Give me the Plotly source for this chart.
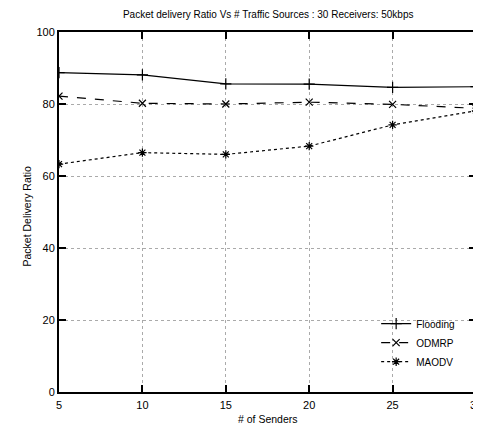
import plotly.graph_objects as go

senders = [5, 10, 15, 20, 25, 30]
flooding = [88.7, 88.1, 85.6, 85.5, 84.6, 84.8]
odmrp = [82.2, 80.2, 80.0, 80.5, 79.9, 78.8]
maodv = [63.3, 66.5, 66.0, 68.3, 74.2, 78.1]

x_ticks = [5, 10, 15, 20, 25, 30]
y_ticks = [0, 20, 40, 60, 80, 100]

FONT = "Liberation Sans, Arial, sans-serif"

fig = go.Figure()
fig.add_trace(go.Scatter(
    x=senders, y=flooding, name="Flooding", mode="lines+markers",
    line=dict(color="black", width=1.2, dash="solid"),
    marker=dict(symbol="cross-thin", size=8, color="black", line=dict(color="black", width=1.2)),
))
fig.add_trace(go.Scatter(
    x=senders, y=odmrp, name="ODMRP", mode="lines+markers",
    line=dict(color="black", width=1.2, dash="dash"),
    marker=dict(symbol="x-thin", size=7, color="black", line=dict(color="black", width=1.2)),
))
fig.add_trace(go.Scatter(
    x=senders, y=maodv, name="MAODV", mode="lines+markers",
    line=dict(color="black", width=1.2, dash="dot"),
    marker=dict(symbol="asterisk-open", size=7, color="black", line=dict(color="black", width=1.2)),
))

axis_common = dict(
    showline=True, linecolor="black", linewidth=2, mirror="ticks",
    ticks="inside", ticklen=7, tickwidth=1.5, tickcolor="black",
    showgrid=True, gridcolor="#aaaaaa", griddash="dot", gridwidth=1,
    zeroline=False, automargin=False,
    tickfont=dict(family=FONT, size=11, color="black"),
)

fig.update_layout(
    width=481, height=430,
    margin=dict(l=51, r=13, t=24, b=46),
    paper_bgcolor="white", plot_bgcolor="white",
    title=dict(text="Packet delivery Ratio Vs # Traffic Sources : 30 Receivers: 50kbps",
               x=0.541, xanchor="center", y=0.986, yanchor="middle",
               font=dict(family=FONT, size=10, color="black")),
    xaxis=dict(range=[5, 30], tickvals=x_ticks, ticklabelstandoff=2, **axis_common),
    yaxis=dict(range=[0, 100], tickvals=y_ticks, **axis_common),
    legend=dict(x=0.962, y=0.23, xanchor="right", yanchor="top",
                bgcolor="rgba(0,0,0,0)", font=dict(family=FONT, size=10, color="black"),
                tracegroupgap=0, itemwidth=30),
    showlegend=True,
)

fig.add_annotation(text="# of Senders", xref="paper", yref="paper", x=0.5, y=-0.075,
                   xanchor="center", yanchor="middle", showarrow=False,
                   font=dict(family=FONT, size=10.5, color="black"))
fig.add_annotation(text="Packet Delivery Ratio", xref="paper", yref="paper", x=-0.077, y=0.49,
                   xanchor="center", yanchor="middle", showarrow=False, textangle=-90,
                   font=dict(family=FONT, size=10.5, color="black"))

fig.write_html("out.html")
